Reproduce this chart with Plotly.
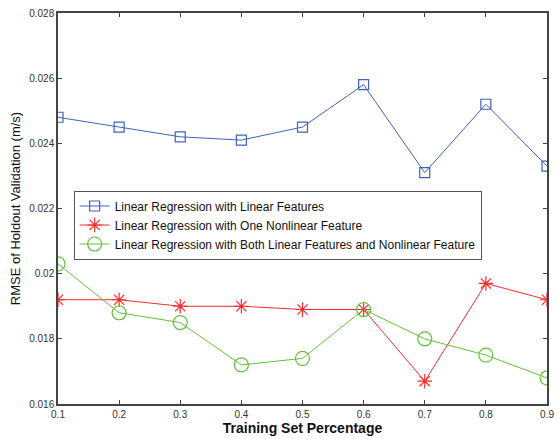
import plotly.graph_objects as go

x_vals = [0.1, 0.2, 0.3, 0.4, 0.5, 0.6, 0.7, 0.8, 0.9]
linear_features = [0.0248, 0.0245, 0.0242, 0.0241, 0.0245, 0.0258, 0.0231, 0.0252, 0.0233]
one_nonlinear = [0.0192, 0.0192, 0.0190, 0.0190, 0.0189, 0.0189, 0.0167, 0.0197, 0.0192]
both_features = [0.0203, 0.0188, 0.0185, 0.0172, 0.0174, 0.0189, 0.0180, 0.0175, 0.0168]

series_names = [
    "Linear Regression with Linear Features",
    "Linear Regression with One Nonlinear Feature",
    "Linear Regression with Both Linear Features and Nonlinear Feature",
]
x_ticks = [0.1, 0.2, 0.3, 0.4, 0.5, 0.6, 0.7, 0.8, 0.9]
x_tick_labels = ["0.1", "0.2", "0.3", "0.4", "0.5", "0.6", "0.7", "0.8", "0.9"]
y_ticks = [0.016, 0.018, 0.020, 0.022, 0.024, 0.026, 0.028]
y_tick_labels = ["0.016", "0.018", "0.02", "0.022", "0.024", "0.026", "0.028"]

fig = go.Figure()
fig.add_trace(go.Scatter(
    x=x_vals, y=linear_features, name=series_names[0], mode="lines+markers",
    line=dict(color="#4060c0", width=1),
    marker=dict(symbol="square-open", size=10, color="#4060c0", line=dict(width=1.2)),
))
fig.add_trace(go.Scatter(
    x=x_vals, y=one_nonlinear, name=series_names[1], mode="lines+markers",
    line=dict(color="#ff2a2a", width=1),
    marker=dict(symbol="asterisk-open", size=12, color="#ff2a2a", line=dict(width=1.2, color="#ff2a2a")),
))
fig.add_trace(go.Scatter(
    x=x_vals, y=both_features, name=series_names[2], mode="lines+markers",
    line=dict(color="#5fc23a", width=1),
    marker=dict(symbol="circle-open", size=14, color="#5fc23a", line=dict(width=1.2)),
))

axis_common = dict(
    showline=True, linecolor="#444", linewidth=1.5, mirror="ticks",
    ticks="inside", ticklen=4, tickcolor="#444", tickwidth=1,
    showgrid=False, zeroline=False, ticklabeloverflow="allow",
    tickfont=dict(family="Liberation Sans, Arial, sans-serif", size=10, color="#333"),
)

fig.update_layout(
    width=559, height=439,
    margin=dict(l=58, r=5, t=13, b=34),
    paper_bgcolor="white", plot_bgcolor="white",
    font=dict(family="Liberation Sans, Arial, sans-serif", color="#111"),
    xaxis=dict(range=[0.1, 0.9], tickvals=x_ticks, ticktext=x_tick_labels,
               title=dict(text="<b>Training Set Percentage</b>", font=dict(size=14), standoff=4),
               **axis_common),
    yaxis=dict(range=[0.016, 0.028], tickvals=y_ticks, ticktext=y_tick_labels,
               title=dict(text="RMSE of Holdout Validation (m/s)", font=dict(size=13), standoff=6),
               **axis_common),
    legend=dict(x=0.032, y=0.546, xanchor="left", yanchor="top",
                bgcolor="white", bordercolor="#555", borderwidth=1,
                font=dict(size=12, color="#111"), itemwidth=30,
                tracegroupgap=0),
    showlegend=True,
)

fig.write_html("out.html", config={"displayModeBar": False},
               post_script="document.body.style.margin='0';document.body.style.overflow='hidden';")
